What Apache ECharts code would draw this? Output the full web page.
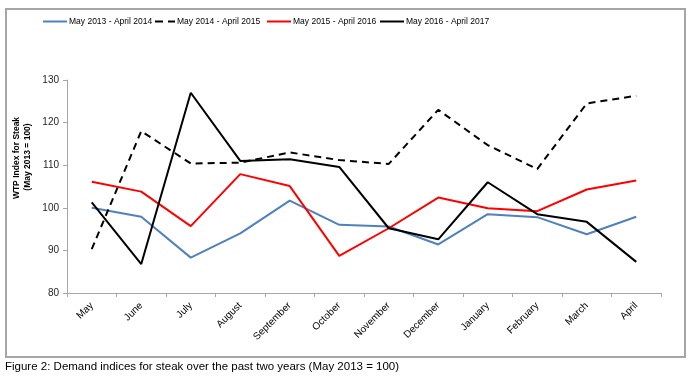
<!DOCTYPE html>
<html><head><meta charset="utf-8">
<script src="https://cdn.jsdelivr.net/npm/echarts@6/dist/echarts.min.js"></script>
<style>html,body{margin:0;padding:0;background:#fff}#c{width:693px;height:378px}</style>
</head><body><div id="c"></div>
<script>
var months = ['May','June','July','August','September','October','November','December','January','February','March','April'];
var s2013 = [100.0, 97.9, 88.3, 94.0, 101.7, 96.0, 95.6, 91.4, 98.5, 97.8, 93.8, 97.9];
var s2014 = [90.3, 118.0, 110.4, 110.6, 113.0, 111.2, 110.3, 123.0, 114.7, 109.1, 124.5, 126.3];
var s2015 = [106.1, 103.8, 95.7, 107.9, 105.1, 88.7, 95.2, 102.4, 99.9, 99.2, 104.3, 106.4];
var s2016 = [101.3, 86.8, 127.0, 111.0, 111.4, 109.6, 95.2, 92.6, 106.0, 98.5, 96.7, 87.3];
var names = ['May 2013 - April 2014','May 2014 - April 2015','May 2015 - April 2016','May 2016 - April 2017'];
var yTicks = [80, 130, 10];
var FONT = '"Liberation Sans", Arial, sans-serif';
var chart = echarts.init(document.getElementById('c'), null, {renderer:'canvas'});
function ser(name, data, color, type){
  return {name:name, type:'line', data:data, symbol:'none', smooth:false,
    lineStyle:{color:color, width:2, type:type}, itemStyle:{color:color}, z:2};
}
var SOLID = 'path://M0 0H24V2H0Z';
var DASH = 'path://M0 0H8V2H0Z M13 0H20V2H13Z';
function leg(i, left, icon, w, color){
  return {left:left, top:17, padding:0, itemWidth:w, itemHeight:2, itemGap:0, icon:icon,
    itemStyle:{color:color},
    textStyle:{fontSize:8.5, color:'#000', fontFamily:FONT, padding:[0,0,0,-3]},
    data:[names[i]]};
}
chart.setOption({
  animation:false,
  textStyle:{fontFamily:FONT},
  graphic:[
    {type:'rect', shape:{x:6, y:9, width:679, height:348}, style:{fill:'none', stroke:'#a6a6a6', lineWidth:2}, silent:true},
    {type:'text', left:5, top:361, style:{text:'Figure 2: Demand indices for steak over the past two years (May 2013 = 100)', fontSize:11.5, fontFamily:FONT, fill:'#000'}},
    {type:'text', x:17, y:158, rotation:Math.PI/2, style:{text:'WTP Index for Steak', fontSize:8.5, fontWeight:'bold', fontFamily:FONT, fill:'#000', align:'center', verticalAlign:'middle'}},
    {type:'text', x:27.5, y:157, rotation:Math.PI/2, style:{text:'(May 2013 = 100)', fontSize:8.5, fontWeight:'bold', fontFamily:FONT, fill:'#000', align:'center', verticalAlign:'middle'}}
  ],
  legend:[
    leg(0, 43, SOLID, 24, '#4f81bd'),
    leg(1, 155, DASH, 20, '#000'),
    leg(2, 267, SOLID, 24, '#ff0000'),
    leg(3, 380, SOLID, 24, '#000')
  ],
  grid:{left:67, right:32, top:80, bottom:85, containLabel:false},
  xAxis:{type:'category', data:months, boundaryGap:true,
    axisLine:{lineStyle:{color:'#a6a6a6'}}, axisTick:{show:true, alignWithLabel:false, lineStyle:{color:'#a6a6a6'}, length:4},
    axisLabel:{rotate:45, fontSize:10, color:'#000', margin:11, interval:0, fontFamily:FONT}},
  yAxis:{type:'value', min:yTicks[0], max:yTicks[1], interval:yTicks[2],
    axisLine:{show:true, lineStyle:{color:'#a6a6a6'}}, axisTick:{show:true, lineStyle:{color:'#a6a6a6'}, length:4},
    splitLine:{show:false},
    axisLabel:{fontSize:10, color:'#262626', margin:8, fontFamily:FONT}},
  series:[
    ser(names[0], s2013, '#4f81bd', 'solid'),
    ser(names[1], s2014, '#000000', [7,5]),
    ser(names[2], s2015, '#ff0000', 'solid'),
    ser(names[3], s2016, '#000000', 'solid')
  ]
});
</script></body></html>
